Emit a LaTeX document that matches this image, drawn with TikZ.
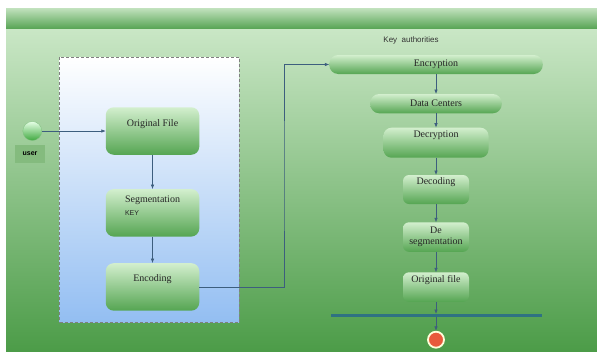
\documentclass[tikz,border=0pt]{standalone}
\usepackage{fontspec}
\setmainfont{Liberation Serif}
\setsansfont{Liberation Sans}
\usetikzlibrary{positioning, arrows.meta}

\definecolor{headtop}{HTML}{C2E2BE}
\definecolor{headbot}{HTML}{5BA658}
\definecolor{paneltop}{HTML}{CAE7C6}
\definecolor{panelmid}{HTML}{8CC587}
\definecolor{panelbot}{HTML}{4C9C48}
\definecolor{laneblue}{HTML}{93BEF2}
\definecolor{acttop}{HTML}{D3EFCE}
\definecolor{actbot}{HTML}{55A552}
\definecolor{flowc}{HTML}{3D5E7E}
\definecolor{barc}{HTML}{2F7282}
\definecolor{stopc}{HTML}{E85A3C}
\definecolor{userc}{HTML}{84BB7E}

\begin{document}
\begin{tikzpicture}[x=1pt,y=-1pt]
\tikzset{act/.style={rectangle,rounded corners=8pt,top color=acttop,bottom color=actbot,draw=none,outer sep=0pt,text=black!85,font=\normalsize},
  pill/.style={act,rounded corners=9pt},
  toptext/.style={anchor=north,inner sep=0pt,text=black!85,font=\normalsize},
  flow/.style={draw=flowc,line width=0.6pt,-{Latex[length=4.5pt,width=3.5pt]}}}

  \useasboundingbox (0,0) rectangle (597,351);
  \fill[white] (0,0) rectangle (597,351);

  % swimlane background
  \shade[top color=paneltop,middle color=panelmid,bottom color=panelbot] (6,28) rectangle (597,351);
  \shade[top color=headtop,bottom color=headbot] (6,8) rectangle (597,28);
  \shade[top color=white,bottom color=laneblue,draw=gray,densely dashed,line width=0.4pt] (59.5,57) rectangle (239,322);

  \node [circle,minimum size=19pt,inner sep=0pt,top color=green!10,bottom color=green!55!black!75,draw=green!50!black!50,line width=0.3pt] (user) at (32.3,131) {};
  \node [rectangle,fill=userc,minimum width=30pt,minimum height=18pt,inner sep=0pt,font=\sffamily\bfseries\scriptsize] (userbox) at (30,154) {user};

  \node [act,minimum width=93.5pt,minimum height=47.5pt,label={[toptext,yshift=-12.5pt]north:Original File}] (orig) at (152.5,131) {};
  \node [act,minimum width=93.5pt,minimum height=47.5pt,below=34.3pt of orig,label={[toptext,yshift=-6.5pt,align=left]north:Segmentation\\[1pt]{\sffamily\scriptsize KEY}}] (seg) {};
  \node [act,minimum width=93.5pt,minimum height=47.5pt,below=26.6pt of seg,label={[toptext,yshift=-11pt]north:Encoding}] (enc) {};

  \node [font=\sffamily\footnotesize,text=black!80] (keyauth) at (411,40) {Key\ \ authorities};

  \node [pill,minimum width=213.5pt,minimum height=19pt] (encr) at (436,64.5) {Encryption};
  \node [pill,minimum width=131.5pt,minimum height=19.3pt,below=20pt of encr] (dc) {Data Centers};
  \node [act,minimum width=105pt,minimum height=30pt,below=14.4pt of dc,label={[toptext,yshift=-3pt]north:Decryption}] (decr) {};
  \node [act,rounded corners=6pt,minimum width=66pt,minimum height=29pt,below=17.3pt of decr,label={[toptext,yshift=-2.5pt]north:Decoding}] (decd) {};
  \node [act,rounded corners=6pt,minimum width=66pt,minimum height=29.5pt,below=18.3pt of decd,align=center,inner sep=0pt,font=\normalsize\linespread{0.95}\selectfont] (deseg) {De\\segmentation};
  \node [act,rounded corners=6pt,minimum width=66pt,minimum height=29.5pt,below=20.5pt of deseg,label={[toptext,yshift=-3pt]north:Original file}] (origf) {};

  \node [rectangle,fill=barc,minimum width=211pt,minimum height=3.3pt,inner sep=0pt,outer sep=0pt,below=12.2pt of origf] (bar) {};
  \node [circle,fill=stopc,draw=white!85!yellow,line width=1.8pt,minimum size=16pt,inner sep=0pt,below=13.5pt of bar] (stop) {};

  \coordinate (bend) at (284,176);

  \draw [flow] (user) -- (orig);
  \draw [flow] (orig) -- (seg);
  \draw [flow] (seg) -- (enc);
  \draw [flow] (enc.east) -| (bend) |- (encr.west);
  \draw [flow] (encr) -- (dc);
  \draw [flow] (dc) -- (decr);
  \draw [flow] (decr) -- (decd);
  \draw [flow] (decd) -- (deseg);
  \draw [flow] (deseg) -- (origf);
  \draw [flow] (origf) -- (bar);
  \draw [flow] (bar) -- (stop);

\end{tikzpicture}
\end{document}
